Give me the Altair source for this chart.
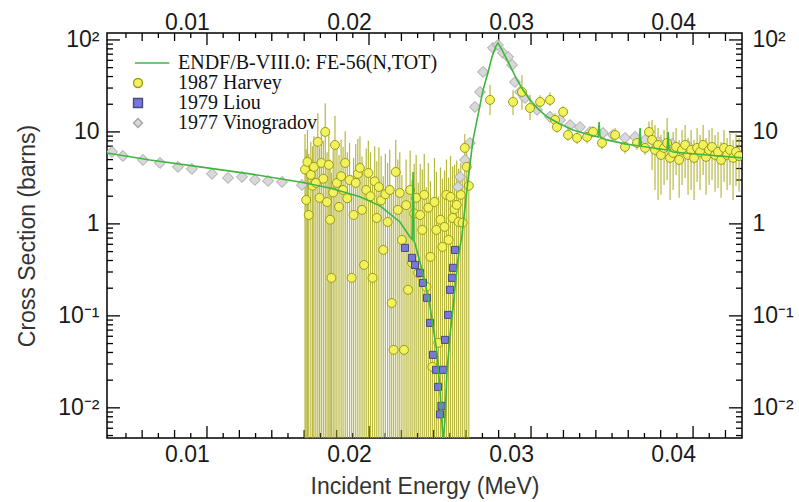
import altair as alt
import pandas as pd

# ---------------- data ----------------
series_names = ["ENDF/B-VIII.0: FE-56(N,TOT)", "1987 Harvey", "1979 Liou", "1977 Vinogradov"]

# ENDF/B-VIII.0 evaluated total cross section
endf_x = [0.00383, 0.00648, 0.00957, 0.01265, 0.01574, 0.01759, 0.01944, 0.02068, 0.02191,
          0.02253, 0.02266, 0.02272, 0.02278, 0.02284, 0.02333, 0.02377, 0.0242, 0.02438,
          0.02451, 0.02457, 0.02469, 0.02481, 0.025, 0.02519, 0.02549, 0.02574, 0.02611,
          0.02642, 0.02673, 0.02704, 0.02735, 0.02759, 0.02784, 0.02796, 0.02821, 0.02852,
          0.02883, 0.02914, 0.02951, 0.02994, 0.03043, 0.03099, 0.03179, 0.03259, 0.03364,
          0.03414, 0.0342, 0.03426, 0.03469, 0.0358, 0.03667, 0.03673, 0.03679, 0.03796,
          0.0384, 0.03846, 0.03852, 0.03877, 0.04086, 0.04302]
endf_y = [5.91, 4.96, 4.17, 3.50, 2.86, 2.46, 1.97, 1.57, 1.05,
          0.72, 0.68, 3.67, 0.65, 0.61, 0.29, 0.125, 0.0396, 0.0157,
          0.0065, 0.0045, 0.0074, 0.024, 0.062, 0.125, 0.41, 0.76, 3.01,
          8.19, 15.3, 28.6, 44.9, 65.3, 86.1, 92.7, 77.9, 60.6,
          47.2, 36.7, 28.6, 22.3, 17.8, 14.6, 12.2, 10.5, 9.27,
          8.82, 12.8, 8.75, 8.19, 7.41, 7.04, 11.0, 7.0, 6.53,
          6.37, 10.0, 6.33, 6.06, 5.62, 5.22]

# 1987 Harvey, group A: large uncertainties whose lower ends run off the axis
harvey_a_x = [0.01605, 0.01612, 0.01620, 0.01628, 0.01641, 0.01652, 0.01660, 0.01672, 0.01684, 0.01695,
              0.01706, 0.01718, 0.01730, 0.01741, 0.01752, 0.01760, 0.01768, 0.01779, 0.01790, 0.01802,
              0.01815, 0.01828, 0.01840, 0.01853, 0.01866, 0.01880, 0.01893, 0.01905, 0.01918, 0.01931,
              0.01944, 0.01957, 0.01970, 0.01983, 0.01996, 0.02009, 0.02022, 0.02035, 0.02048, 0.02061,
              0.02075, 0.02088, 0.02101, 0.02115, 0.02128, 0.02140, 0.02152, 0.02165, 0.02178, 0.02190,
              0.02203, 0.02216, 0.02229, 0.02241, 0.02254, 0.02266, 0.02279, 0.02291, 0.02304, 0.02316,
              0.02329, 0.02341, 0.02354, 0.02366, 0.02379, 0.02391, 0.02404, 0.02416, 0.02428, 0.02441,
              0.02453, 0.02466, 0.02478, 0.02491, 0.02503, 0.02516, 0.02528, 0.02541, 0.02553, 0.02566,
              0.02578, 0.02591, 0.02603, 0.02616]
harvey_a_y = [3.9, 1.82, 4.72, 1.25, 3.41, 2.6, 4.17, 2.79, 7.79, 1.92,
              4.60, 3.1, 10.0, 1.73, 4.38, 1.11, 0.259, 2.2, 7.22, 2.79,
              1.53, 3.3, 2.34, 4.60, 1.9, 3.0, 0.259, 1.25, 2.79, 3.5,
              4.06, 1.42, 0.358, 2.34, 3.58, 2.0, 0.259, 2.9, 1.16, 2.52,
              1.8, 0.521, 2.1, 1.05, 2.34, 0.138, 0.0427, 3.67, 1.42, 2.17,
              0.670, 0.0427, 1.6, 0.192, 2.34, 0.377, 1.3, 1.92, 0.293, 1.25,
              0.861, 2.07, 0.207, 1.5, 0.438, 0.0279, 1.73, 0.861, 0.0509, 1.11,
              0.562, 0.928, 2.07, 0.670, 1.97, 1.16, 1.45, 1.61, 1.05, 2.07,
              1.03, 6.70, 4.17, 2.6]
harvey_a_hi = [9.5, 6.5, 10.5, 5.8, 7.8, 7.0, 9.0, 7.5, 16.0, 6.8,
               10.0, 8.0, 20.5, 6.0, 9.8, 5.0, 3.6, 6.5, 15.0, 7.2,
               5.6, 8.2, 6.9, 10.2, 6.0, 7.6, 3.4, 5.2, 7.4, 8.4,
               9.0, 5.4, 3.5, 6.6, 8.0, 6.0, 3.2, 7.0, 4.8, 6.8,
               5.5, 3.3, 5.8, 4.6, 6.4, 2.6, 2.2, 8.2, 5.0, 6.0,
               3.4, 2.1, 5.0, 2.4, 6.3, 3.0, 4.5, 5.6, 2.8, 4.5,
               3.9, 5.8, 2.5, 4.6, 2.9, 1.9, 5.2, 3.7, 2.0, 4.1,
               3.1, 3.8, 5.0, 3.2, 5.5, 4.2, 4.4, 4.9, 4.0, 4.6,
               3.2, 9.5, 7.0, 5.2]
BAR_FLOOR = 0.001  # lower end of the group A bars (below the plotted range)

# 1987 Harvey, group B: resonance peak and tail
harvey_b_x = [0.02747, 0.02889, 0.02944, 0.02994, 0.03056, 0.03117, 0.03148, 0.0316, 0.03198, 0.03228,
              0.03284, 0.03346, 0.03383, 0.03438, 0.03519, 0.0358, 0.03654, 0.03704, 0.03728,
              0.03747, 0.03765, 0.03784, 0.03802, 0.03821, 0.0384, 0.03858, 0.03877, 0.03895, 0.03914,
              0.03932, 0.03951, 0.03969, 0.03988, 0.04006, 0.04025, 0.04043, 0.04062, 0.0408, 0.04099,
              0.04117, 0.04136, 0.04154, 0.04173, 0.04191, 0.0421, 0.04228, 0.04247, 0.04265, 0.04284]
harvey_b_y = [22.3, 21.2, 27.2, 18.2, 21.2, 22.3, 13.5, 11.3, 16.5, 9.27,
              8.61, 8.82, 10.0, 7.59, 9.27, 6.87, 7.59, 6.70, 10.0,
              8.19, 6.37, 7.22, 5.62, 6.70, 7.59, 5.22, 5.91, 6.87, 4.96,
              6.37, 7.22, 5.62, 6.37, 5.22, 6.70, 6.06, 7.22, 5.35, 6.37,
              6.87, 5.62, 6.06, 4.96, 6.70, 5.62, 6.37, 5.22, 6.06, 5.48]
harvey_b_hi = [32.4, 28.6, 41.6, 25.3, 25.0, 27.0, 16.0, 13.0, 19.0, 11.0,
               10.0, 10.5, 11.5, 9.0, 11.0, 8.2, 9.0, 8.0, 13.0,
               13.5, 11.9, 11.0, 9.27, 10.5, 14.2, 8.19, 10.0, 11.0, 8.19,
               10.5, 11.9, 8.61, 10.5, 8.19, 11.0, 9.27, 11.9, 8.61, 10.5,
               11.0, 9.27, 10.0, 7.79, 10.5, 8.61, 10.0, 8.19, 9.51, 8.61]
harvey_b_lo = [15.3, 15.3, 17.4, 13.5, 18.0, 19.0, 11.5, 9.8, 14.0, 8.0,
               7.4, 7.5, 8.7, 6.5, 8.0, 5.8, 6.4, 5.6, 7.5,
               3.86, 2.34, 1.82, 2.07, 2.65, 3.01, 1.82, 2.34, 3.41, 1.92,
               2.65, 3.16, 2.07, 2.34, 1.82, 2.86, 2.34, 3.41, 2.07, 2.65,
               3.01, 2.23, 2.46, 1.92, 2.86, 2.34, 2.65, 1.82, 2.59, 2.23]

# 1979 Liou
liou_x = [0.02222, 0.02265, 0.02284, 0.02315, 0.02333, 0.02358, 0.02377, 0.02395, 0.02414, 0.02426,
          0.02438, 0.02447, 0.02457, 0.02469, 0.02488, 0.025, 0.02512, 0.02519, 0.02531]
liou_y = [0.548, 0.427, 0.358, 0.293, 0.228, 0.157, 0.0839, 0.0377, 0.0259, 0.0169,
          0.0085, 0.0105, 0.0259, 0.0548, 0.1025, 0.192, 0.259, 0.333, 0.521]

# 1977 Vinogradov
vino_x = [0.00414, 0.00481, 0.00605, 0.0071, 0.00821, 0.00907, 0.01031, 0.0113, 0.01216, 0.01296,
          0.01377, 0.01463, 0.01586, 0.02549, 0.02562, 0.02593, 0.02623, 0.02654, 0.02685, 0.02704,
          0.02765, 0.02796, 0.02827, 0.02858, 0.02883, 0.02901, 0.02932, 0.02963, 0.03037, 0.03117,
          0.03179, 0.03241, 0.03302, 0.03364, 0.03444, 0.03506, 0.0358, 0.03642, 0.03704, 0.03784,
          0.0387, 0.03969]
vino_y = [6.06, 5.48, 4.96, 4.60, 4.17, 3.96, 3.50, 3.16, 3.24, 3.01,
          2.93, 2.86, 2.65, 2.52, 3.24, 4.96, 7.59, 18.7, 27.2, 44.9,
          81.9, 88.2, 72.2, 65.3, 53.5, 34.9, 27.2, 23.4, 17.4, 14.6,
          13.5, 11.9, 11.3, 10.0, 9.75, 9.28, 8.61, 8.82, 8.19, 7.79,
          7.41, 7.04]

# tick values
x_major_ticks = [0.01, 0.02, 0.03, 0.04]
x_medium_ticks = [0.006, 0.008, 0.012, 0.014, 0.016, 0.018, 0.022, 0.024, 0.026, 0.028,
                  0.032, 0.034, 0.036, 0.038, 0.042]
x_minor_ticks = [0.005, 0.007, 0.009, 0.011, 0.013, 0.015, 0.017, 0.019, 0.021, 0.023, 0.025,
                 0.027, 0.029, 0.031, 0.033, 0.035, 0.037, 0.039, 0.041]
y_major_ticks = [0.01, 0.1, 1, 10, 100]
y_minor_ticks = [0.005, 0.006, 0.007, 0.008, 0.009,
                 0.02, 0.03, 0.04, 0.05, 0.06, 0.07, 0.08, 0.09,
                 0.2, 0.3, 0.4, 0.5, 0.6, 0.7, 0.8, 0.9,
                 2, 3, 4, 5, 6, 7, 8, 9,
                 20, 30, 40, 50, 60, 70, 80, 90]

# ---------------- styling ----------------
FONT = "Liberation Sans"
W, H = 635, 405
GREEN = "#3fb63f"
fill_colors = [GREEN, "#f2f25e", "#7878dc", "#d8d8d8"]
stroke_colors = [GREEN, "#9c9c10", "#4a4a80", "#a4a4a4"]
shapes = ["M-0.7,0H7", "circle", "square", "diamond"]

xscale = alt.Scale(domain=[0.00383, 0.04302], nice=False, zero=False)
yscale = alt.Scale(type="log", domain=[0.0047, 119], nice=False)
fill_scale = alt.Scale(domain=series_names, range=fill_colors)
stroke_scale = alt.Scale(domain=series_names, range=stroke_colors)
shape_scale = alt.Scale(domain=series_names, range=shapes)

endf_df = pd.DataFrame({"x": endf_x, "y": endf_y})
harvey_df = pd.DataFrame({
    "x": harvey_a_x + harvey_b_x,
    "y": harvey_a_y + harvey_b_y,
    "hi": harvey_a_hi + harvey_b_hi,
    "lo": [BAR_FLOOR] * len(harvey_a_x) + harvey_b_lo,
})
harvey_df["series"] = series_names[1]
liou_df = pd.DataFrame({"x": liou_x, "y": liou_y})
liou_df["series"] = series_names[2]
vino_df = pd.DataFrame({"x": vino_x, "y": vino_y})
vino_df["series"] = series_names[3]

legend = alt.Legend(title=None, orient="none", legendX=21, legendY=20, padding=0, rowPadding=0,
                    labelFont="Liberation Serif", labelFontSize=20, labelColor="#111",
                    labelOffset=30, symbolSize=80, symbolStrokeWidth=1.4, symbolOffset=0,
                    labelLimit=400)

X = lambda: alt.X("x:Q", scale=xscale, axis=None)
Y = lambda: alt.Y("y:Q", scale=yscale, axis=None)


def points(df, size):
    return alt.Chart(df).mark_point(filled=True, size=size, strokeWidth=1, opacity=1, clip=True).encode(
        x=X(), y=Y(),
        fill=alt.Fill("series:N", scale=fill_scale, legend=legend),
        stroke=alt.Stroke("series:N", scale=stroke_scale, legend=legend),
        shape=alt.Shape("series:N", scale=shape_scale, legend=legend),
    )


bars = alt.Chart(harvey_df).mark_rule(color="#acac1e", strokeWidth=1.2, opacity=0.85, clip=True).encode(
    x=X(), y=alt.Y("lo:Q", scale=yscale, axis=None), y2="hi:Q")
vino_pts = points(vino_df, 120)
harvey_pts = points(harvey_df, 80)
liou_pts = points(liou_df, 50)
endf_line = alt.Chart(endf_df).mark_line(color=GREEN, strokeWidth=1.6, clip=True).encode(x=X(), y=Y())


# ---------------- inward tick marks (tick marks centred half a length inside each edge) ----------------
def x_ticks(values, length, at_top):
    centre = length / 2 if at_top else H - length / 2
    return alt.Chart(pd.DataFrame({"t": values})).mark_tick(
        color="black", thickness=1.3, size=length, orient="vertical", opacity=1
    ).encode(x=alt.X("t:Q", scale=xscale, axis=None), y=alt.value(centre))


def y_ticks(values, length, at_right):
    centre = W - length / 2 if at_right else length / 2
    return alt.Chart(pd.DataFrame({"t": values})).mark_tick(
        color="black", thickness=1.3, size=length, orient="horizontal", opacity=1
    ).encode(y=alt.Y("t:Q", scale=yscale, axis=None), x=alt.value(centre))


tick_layers = []
for top in (False, True):
    tick_layers += [x_ticks(x_major_ticks, 12, top), x_ticks(x_medium_ticks, 8, top),
                    x_ticks(x_minor_ticks, 5, top)]
for right in (False, True):
    tick_layers += [y_ticks(y_major_ticks, 13, right), y_ticks(y_minor_ticks, 6, right)]

# ---------------- label axes ----------------
common_lab = dict(ticks=False, domain=False, grid=False, labelFont=FONT, labelFontSize=23,
                  labelColor="#1a1a1a", labelFlush=False, labelOverlap=False)
ax_bottom = alt.Axis(orient="bottom", values=x_major_ticks, format=".2f", labelPadding=5, labelOffset=-20,
                     title="Incident Energy (MeV)", titleFont=FONT, titleFontSize=23,
                     titleFontWeight="normal", titleColor="#333", titlePadding=9, **common_lab)
ax_top = alt.Axis(orient="top", values=x_major_ticks, format=".2f", labelPadding=4, labelOffset=-20,
                  labelBaseline="alphabetic", title=None, **common_lab)
ylab = ("datum.value > 50 ? '10\u00b2' : datum.value > 5 ? '10' : datum.value > 0.5 ? '1' : "
        "datum.value > 0.05 ? '10\u207b\u00b9' : '10\u207b\u00b2'")
ax_left = alt.Axis(orient="left", values=y_major_ticks, labelExpr=ylab, labelPadding=8,
                   title="Cross Section (barns)", titleFont=FONT, titleFontSize=23,
                   titleFontWeight="normal", titleColor="#333", titlePadding=18, **common_lab)
ax_right = alt.Axis(orient="right", values=y_major_ticks, labelExpr=ylab, labelPadding=10,
                    title=None, **common_lab)


def carrier(xa, ya):
    return alt.Chart(endf_df).mark_point(opacity=0).encode(
        x=alt.X("x:Q", scale=xscale, axis=xa),
        y=alt.Y("y:Q", scale=yscale, axis=ya))


chart = alt.layer(
    *tick_layers, bars, vino_pts, harvey_pts, liou_pts, endf_line,
    carrier(ax_bottom, ax_left), carrier(ax_top, ax_right),
).resolve_axis(
    x="independent", y="independent"
).properties(
    width=W, height=H,
    autosize=alt.AutoSizeParams(type="none"),
    padding={"left": 107, "top": 33, "right": 57, "bottom": 64},
    background="white",
).configure_view(stroke="black", strokeWidth=1.5)

chart.save("out.html", embed_options={"renderer": "svg", "actions": False})
